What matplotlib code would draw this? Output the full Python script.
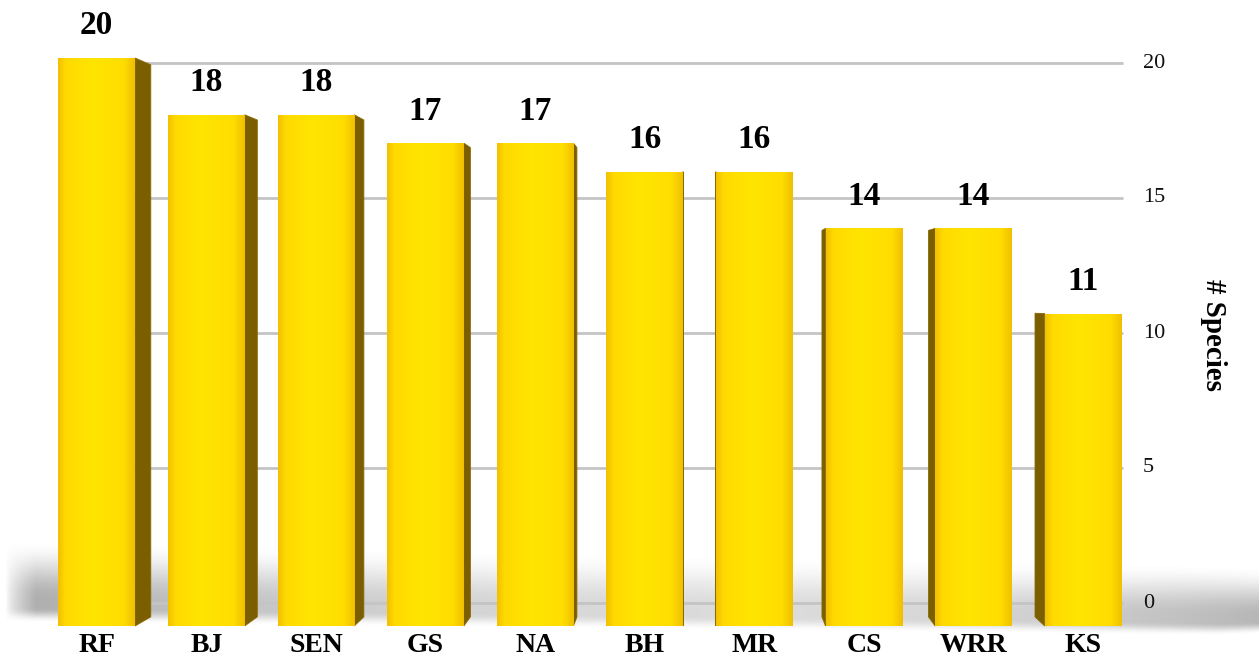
import numpy as np
import matplotlib
matplotlib.use('Agg')
import matplotlib.pyplot as plt
from matplotlib.patches import Polygon
from matplotlib.transforms import IdentityTransform
from matplotlib.colors import LinearSegmentedColormap

# ---------------- data ----------------
categories = ['RF', 'BJ', 'SEN', 'GS', 'NA', 'BH', 'MR', 'CS', 'WRR', 'KS']
species = [20, 18, 18, 17, 17, 16, 16, 14, 14, 11]
y_ticks = [0, 5, 10, 15, 20]
y_label = '# Species'

# ---------------- layout ----------------
W, H = 1259, 664
X0, DX = 96.7, 109.6          # pixel x of first category, spacing
BAR_BASE, BAR_SCALE = 626, 28.4   # front plane (bars)
GRID_BASE, GRID_SCALE = 603, 27.0  # back plane (grid)
FONT = 'Liberation Serif'

fig = plt.figure(figsize=(W / 100, H / 100), dpi=100)


def layer(z):
    ax = fig.add_axes([0, 0, 1, 1], zorder=z)
    ax.set_axis_off()
    ax.patch.set_alpha(0)
    return ax


xlim = (-X0 / DX, (W - X0) / DX)

# ---- background floor shadow (decorative) ----
ax_bg = layer(0)
xx, yy = np.meshgrid(np.arange(W) + 0.5, np.arange(H) + 0.5)
top = 540 + 0.02 * xx
bot = 622 + 0.011 * xx
taper = np.clip((1259 + 260 - xx) / 300.0, 0, 1)
mid = (top + bot) / 2
half = (bot - top) / 2 * (0.55 + 0.45 * taper)
t2 = mid - half
b2 = mid + half
u = np.clip((yy - t2) / np.maximum(b2 - t2, 1), 0, 1)
up = np.clip(u / 0.72, 0, 1)
up = up * up * (3 - 2 * up)
down = np.clip((1 - u) / 0.18, 0, 1)
down = down * down * (3 - 2 * down)
vprof = up * down * ((yy > t2) & (yy < b2))
denom = np.where(xx < 760, 740.0, 560.0)
amp = 0.28 + 0.36 * ((xx - 760) / denom) ** 2
left_fade = np.clip((xx - 6) / 30.0, 0, 1) ** 0.7
alpha = np.clip(amp * vprof * left_fade, 0, 1)
rgba = np.zeros((H, W, 4))
rgba[..., :3] = 0.5
rgba[..., 3] = alpha
ax_bg.imshow(rgba, extent=(0, W, H, 0), interpolation='bilinear', aspect='auto')
ax_bg.set_xlim(0, W)
ax_bg.set_ylim(H, 0)

# ---- grid (back plane) ----
ax_grid = layer(1)
ax_grid.set_xlim(*xlim)
ax_grid.set_ylim(-(H - GRID_BASE) / GRID_SCALE, GRID_BASE / GRID_SCALE)
gx0 = (70 - X0) / DX
gx1 = (1123 - X0) / DX
ax_grid.hlines(y_ticks, gx0, gx1, colors='#c4c4c4', linewidth=2.0)
tx = (1143 - X0) / DX
for t in y_ticks:
    ax_grid.text(tx, t, str(t), ha='left', va='center', fontsize=16,
                 family=FONT, color='#111111')

# ---- bars (front plane) ----
ax_bar = layer(2)
x = np.arange(len(categories))
bw = 0.70
bars = ax_bar.bar(x, species, width=bw, color='#FFE000', linewidth=0, zorder=3)

front_cmap = LinearSegmentedColormap.from_list(
    'front', [(0.0, '#F2C000'), (0.1, '#FFDA00'), (0.45, '#FFE500'),
              (0.85, '#FFDD00'), (1.0, '#F0C000')])
grad = np.linspace(0, 1, 256)[None, :]
for rect in bars:
    x_l = rect.get_x()
    im = ax_bar.imshow(grad, cmap=front_cmap, aspect='auto',
                       extent=(x_l, x_l + rect.get_width(), 0, rect.get_height()),
                       zorder=3.1, interpolation='bilinear')
    im.set_clip_path(rect)

ax_bar.set_xlim(*xlim)
ax_bar.set_ylim(-(H - BAR_BASE) / BAR_SCALE, BAR_BASE / BAR_SCALE)
fig.canvas.draw()

# side faces toward a vanishing point
VP = np.array([697.0, H - 300.0])
K = 0.028
for i, rect in enumerate(bars):
    x_l = rect.get_x()
    x_r = x_l + rect.get_width()
    h = rect.get_height()
    pts = ax_bar.transData.transform([(x_l, 0), (x_l, h), (x_r, h), (x_r, 0)])
    if pts[2, 0] < VP[0]:
        e0, e1 = pts[3], pts[2]
    elif pts[0, 0] > VP[0]:
        e0, e1 = pts[0], pts[1]
    else:
        continue
    b0 = e0 + (VP - e0) * K
    b1 = e1 + (VP - e1) * K
    poly = Polygon([e0, e1, b1, b0], closed=True, transform=IdentityTransform(),
                   facecolor='#7A5E00', edgecolor='#8A6B00', linewidth=0.6,
                   zorder=2.9)
    ax_bar.add_artist(poly)

# value labels
for i, v in enumerate(species):
    ax_bar.annotate(str(v), (i, v), xytext=(0, 17), textcoords='offset points',
                    ha='center', va='baseline', fontsize=24, fontweight='bold',
                    family=FONT, color='#000000', zorder=5)

# category labels
lab_y = (BAR_BASE - 652) / BAR_SCALE
for i, c in enumerate(categories):
    ax_bar.text(i, lab_y, c, ha='center', va='baseline', fontsize=20,
                fontweight='bold', family=FONT, color='#000000', zorder=5)

# axis title
fig.text(1214 / W, 1 - 335 / H, y_label, rotation=270, ha='center', va='center',
         fontsize=21, fontweight='bold', family=FONT, color='#000000')

fig.savefig('out.png', dpi=100, facecolor='white')
